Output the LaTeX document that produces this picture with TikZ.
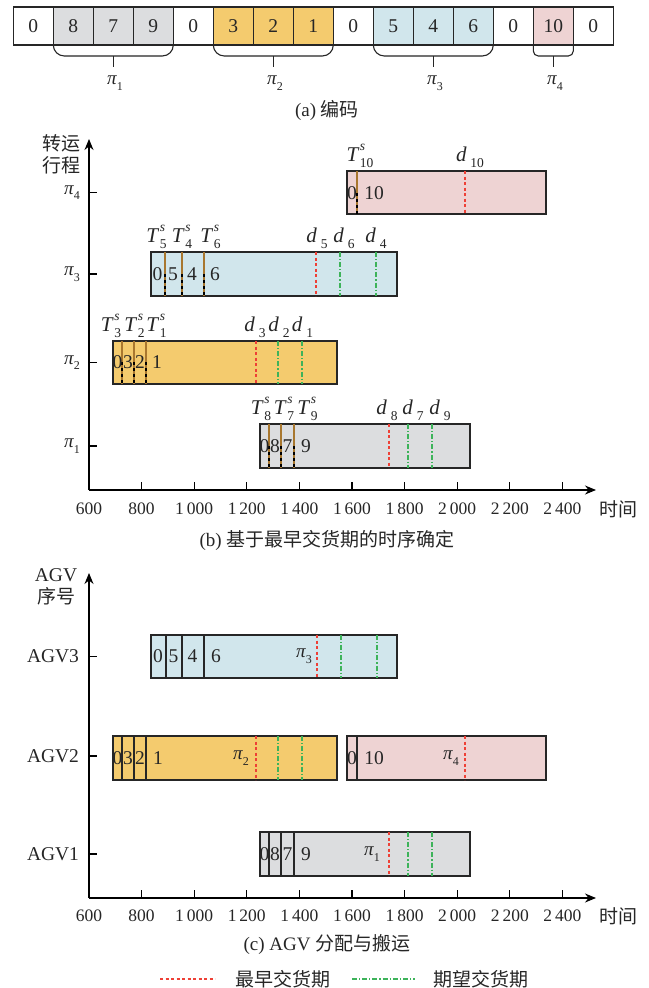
\documentclass[tikz,border=0pt]{standalone}
\usepackage{fontspec}
\setmainfont{Liberation Serif}
\newfontfamily\cjk{Noto Sans CJK SC}
\usetikzlibrary{arrows.meta,calc}

\definecolor{gBar}{HTML}{DCDDDF}
\definecolor{yBar}{HTML}{F4CB6E}
\definecolor{bBar}{HTML}{D1E6EC}
\definecolor{pBar}{HTML}{EED3D3}
\definecolor{ddRed}{HTML}{EE4036}
\definecolor{ddGreen}{HTML}{3DB35A}
\definecolor{divBrown}{HTML}{A8772F}
\definecolor{ink}{HTML}{262626}

% start-time label T^s_i, due-date label d_i, route label pi_i
\newcommand\tsLab[1]{\textit{T}\kern.02em\rlap{\raisebox{.5em}{\fontsize{13.5}{13.5}\selectfont\textit{s}}}\raisebox{-.3em}{\fontsize{13.5}{13.5}\selectfont #1}}
\newcommand\dLab[1]{\textit{d}\kern.18em\raisebox{-.3em}{\fontsize{13.5}{13.5}\selectfont #1}}
\newcommand\piLab[1]{\textit{π}\raisebox{-.3em}{\fontsize{12}{12}\selectfont #1}}

\tikzset{
  cell/.style={draw=ink, line width=1.1pt, minimum width=40pt, minimum height=38pt,
    inner sep=0pt, outer sep=0pt, font=\fontsize{19.5}{20}\selectfont, text=ink},
  brace/.style={draw=ink, line width=1.1pt, rounded corners=11pt},
  axis/.style={draw=black, line width=1.1pt, -{Stealth[length=11pt,width=9pt]}},
  tk/.style={draw=black, line width=1.1pt},
  tickL/.style={font=\fontsize{17.5}{18}\selectfont, text=ink},
  cjkL/.style={font=\cjk\fontsize{19}{22}\selectfont, text=ink},
  capL/.style={font=\fontsize{19}{22}\selectfont, text=ink},
  barbox/.style={draw=ink, line width=1.2pt},
  num/.style={font=\fontsize{19.5}{20}\selectfont, inner sep=0pt, text=ink},
  divB/.style={draw=divBrown, line width=1.3pt},
  divK/.style={draw=black, line width=1.3pt, dash pattern=on 3pt off 3pt},
  divC/.style={draw=ink, line width=1.2pt},
  earliest/.style={draw=ddRed, line width=1.1pt, dash pattern=on 3pt off 2.5pt},
  expected/.style={draw=ddGreen, line width=1.1pt, dash pattern=on 5pt off 2pt on 1.2pt off 2pt},
  mlab/.style={font=\fontsize{21}{21}\selectfont, inner sep=0pt, anchor=base, text=ink},
  piL/.style={font=\fontsize{19}{19}\selectfont, inner sep=0pt, text=ink},
  agvL/.style={font=\fontsize{19.5}{20}\selectfont, text=ink},
}

\begin{document}
\begin{tikzpicture}[x=1pt,y=-1pt]
\useasboundingbox[fill=white] (0,0) rectangle (648,988);

% ---------------- (a) encoding ----------------
\foreach \v/\c [count=\i from 0] in {0/white,8/gBar,7/gBar,9/gBar,0/white,3/yBar,2/yBar,1/yBar,0/white,5/bBar,4/bBar,6/bBar,0/white,10/pBar,0/white}
  \node[cell, fill=\c] (c\i) at ({33.3+40*\i},26) {\v};

\draw[brace] (c1.south west) -- ++(0,11) -| (c3.south east);
\draw[brace] (c5.south west) -- ++(0,11) -| (c7.south east);
\draw[brace] (c9.south west) -- ++(0,11) -| (c11.south east);
\draw[brace, rounded corners=5pt] (c13.south west) -- ++(0,11) -| (c13.south east);
\foreach \g in {2,6,10,13}
  \draw[brace] ($(c\g.south)+(0,11)$) -- ++(0,11);
\node[piL] (pa1) at (115,83) {\piLab{1}};
\node[piL] (pa2) at (275,83) {\piLab{2}};
\node[piL] (pa3) at (435,83) {\piLab{3}};
\node[piL] (pa4) at (555,83) {\piLab{4}};
\node[capL] (capA) at (327,110) {(a) {\cjk 编码}};

% ---------------- (b) earliest-due-date sequencing ----------------
\coordinate (oB) at (89,490);
\draw[axis] (oB) -- (89,139);
\draw[axis] (oB) -- (596,490);
\foreach \k in {1,...,9}
  \draw[tk] ({89+52.6*\k},490) -- ++(0,-8);
\foreach \lab [count=\k from 0] in {600,800,1\,000,1\,200,1\,400,1\,600,1\,800,2\,000,2\,200,2\,400}
  \node[tickL] at ({89+52.6*\k},509) {\lab};
\node[cjkL] (tB) at (618,509) {时间};
\node[cjkL, align=center] (yB) at (61,154) {转运\\行程};
\foreach \y/\p in {192.5/4,274/3,362.5/2,446/1} {
  \draw[tk] (89,\y) -- ++(8,0);
  \node[piL] at (72,\y) {\piLab{\p}};
}

% route pi_4
\draw[barbox, fill=pBar] (347,171) rectangle (546,214);
\draw[earliest] (465,171) -- (465,214);
\draw[divB] (357,171) -- (357,214);
\draw[divK] (357,193) -- (357,214);
\node[num] at (352,193) {0};
\node[num] at (374,193) {10};
\node[mlab] at (360,161) {\tsLab{10}};
\node[mlab] at (470,161) {\dLab{10}};

% route pi_3
\draw[barbox, fill=bBar] (151,252) rectangle (397,296);
\draw[earliest] (316,252) -- (316,296);
\foreach \x in {340,376} \draw[expected] (\x,252) -- (\x,296);
\foreach \x in {165,182,204} {
  \draw[divB] (\x,252) -- (\x,296);
  \draw[divK] (\x,274) -- (\x,296);
}
\foreach \x/\t in {157.5/0,173/5,192/4,215/6} \node[num] at (\x,274) {\t};
\foreach \x/\t in {156.5/5,182/4,210.5/6} \node[mlab] at (\x,242) {\tsLab{\t}};
\foreach \x/\t in {317/5,344/6,376/4} \node[mlab] at (\x,242) {\dLab{\t}};

% route pi_2
\draw[barbox, fill=yBar] (113,341) rectangle (337,384);
\draw[earliest] (256,341) -- (256,384);
\foreach \x in {278,302} \draw[expected] (\x,341) -- (\x,384);
\foreach \x in {122,134,146} {
  \draw[divB] (\x,341) -- (\x,384);
  \draw[divK] (\x,362) -- (\x,384);
}
\foreach \x/\t in {117.5/0,128/3,140/2,157/1} \node[num] at (\x,362.5) {\t};
\foreach \x/\t in {111/3,134.5/2,156.5/1} \node[mlab] at (\x,331) {\tsLab{\t}};
\foreach \x/\t in {255/3,279/2,302.5/1} \node[mlab] at (\x,331) {\dLab{\t}};

% route pi_1
\draw[barbox, fill=gBar] (260,424) rectangle (470,468);
\draw[earliest] (389,424) -- (389,468);
\foreach \x in {408,432} \draw[expected] (\x,424) -- (\x,468);
\foreach \x in {269,281,294} {
  \draw[divB] (\x,424) -- (\x,468);
  \draw[divK] (\x,446) -- (\x,468);
}
\foreach \x/\t in {264.5/0,275/8,287.5/7,306/9} \node[num] at (\x,446) {\t};
\foreach \x/\t in {261/8,284/7,307.5/9} \node[mlab] at (\x,414) {\tsLab{\t}};
\foreach \x/\t in {387/8,413/7,440/9} \node[mlab] at (\x,414) {\dLab{\t}};

\node[capL] (capB) at (327,540) {(b) {\cjk 基于最早交货期的时序确定}};

% ---------------- (c) AGV assignment ----------------
\coordinate (oC) at (89,898);
\draw[axis] (oC) -- (89,573);
\draw[axis] (oC) -- (596,898);
\foreach \k in {1,...,9}
  \draw[tk] ({89+52.6*\k},898) -- ++(0,-8);
\foreach \lab [count=\k from 0] in {600,800,1\,000,1\,200,1\,400,1\,600,1\,800,2\,000,2\,200,2\,400}
  \node[tickL] at ({89+52.6*\k},916) {\lab};
\node[cjkL] (tC) at (618,916) {时间};
\node[agvL] (yC1) at (56,575) {AGV};
\node[cjkL] (yC2) at (56,596) {序号};
\foreach \y/\a in {656.5/3,756/2,854/1} {
  \draw[tk] (89,\y) -- ++(8,0);
  \node[agvL] at (53,\y) {AGV\a};
}

% AGV3 carries pi_3
\draw[barbox, fill=bBar] (151,635) rectangle (397,678);
\draw[earliest] (317,635) -- (317,678);
\foreach \x in {341,377} \draw[expected] (\x,635) -- (\x,678);
\foreach \x in {166,182,204} \draw[divC] (\x,635) -- (\x,678);
\foreach \x/\t in {158/0,173.5/5,192.5/4,216/6} \node[num] at (\x,656.5) {\t};
\node[piL] at (304,656) {\piLab{3}};

% AGV2 carries pi_2 then pi_4
\draw[barbox, fill=yBar] (113,736) rectangle (337,780);
\draw[earliest] (256,736) -- (256,780);
\foreach \x in {278,302} \draw[expected] (\x,736) -- (\x,780);
\foreach \x in {122,134,146} \draw[divC] (\x,736) -- (\x,780);
\foreach \x/\t in {117.5/0,128/3,140/2,158/1} \node[num] at (\x,758) {\t};
\node[piL] at (241,758) {\piLab{2}};

\draw[barbox, fill=pBar] (347,736) rectangle (546,780);
\draw[earliest] (465,736) -- (465,780);
\draw[divC] (357,736) -- (357,780);
\node[num] at (352,758) {0};
\node[num] at (374,758) {10};
\node[piL] at (451,758) {\piLab{4}};

% AGV1 carries pi_1
\draw[barbox, fill=gBar] (260,832) rectangle (470,876);
\draw[earliest] (389,832) -- (389,876);
\foreach \x in {408,432} \draw[expected] (\x,832) -- (\x,876);
\foreach \x in {269,281,294} \draw[divC] (\x,832) -- (\x,876);
\foreach \x/\t in {264.5/0,275/8,287.5/7,306/9} \node[num] at (\x,854) {\t};
\node[piL] at (372,854) {\piLab{1}};

\node[capL] (capC) at (327,944) {(c) AGV {\cjk 分配与搬运}};

% legend
\coordinate (lr1) at (160,979);
\coordinate (lr2) at (215,979);
\draw[earliest] (lr1) -- (lr2);
\node[cjkL, anchor=west, inner sep=0pt] (legR) at (235,979) {最早交货期};
\coordinate (lg1) at (352,979);
\coordinate (lg2) at (415,979);
\draw[expected] (lg1) -- (lg2);
\node[cjkL, anchor=west, inner sep=0pt] (legG) at (433,979) {期望交货期};
\end{tikzpicture}
\end{document}
